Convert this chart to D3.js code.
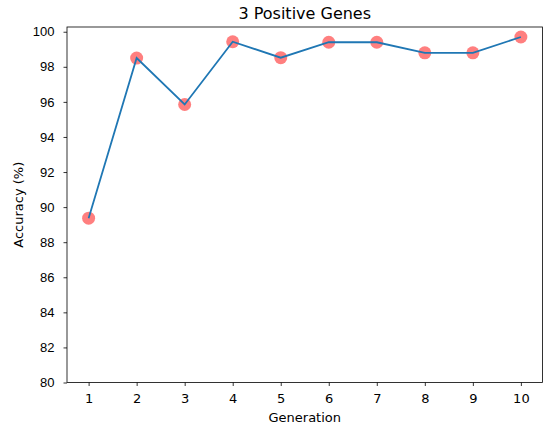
<!DOCTYPE html>
<html>
<head>
<meta charset="utf-8">
<script src="https://cdn.jsdelivr.net/npm/d3@7"></script>
<style>
  body { margin: 0; background: #fff; }
  svg text { font-family: "DejaVu Sans", sans-serif; fill: #000; }
</style>
</head>
<body>
<svg id="chart" width="543" height="429"></svg>
<script>
var generations = [1, 2, 3, 4, 5, 6, 7, 8, 9, 10],
    accuracy = [89.37, 98.5, 95.85, 99.43, 98.52, 99.4, 99.4, 98.8, 98.8, 99.7],
    yTicks = [80, 82, 84, 86, 88, 90, 92, 94, 96, 98, 100];

var svg = d3.select('#chart'),
    plotLeft = 67, plotRight = 542.5, plotTop = 27, plotBottom = 382.5;

var x = d3.scaleLinear().domain([0.55, 10.45]).range([plotLeft, plotRight]),
    y = d3.scaleLinear().domain([80, 100.27]).range([plotBottom, plotTop]);

// dots first, line drawn over them
svg.append('g').selectAll('circle')
    .data(generations)
    .enter().append('circle')
    .attr('cx', function(d) { return x(d); })
    .attr('cy', function(d, i) { return y(accuracy[i]); })
    .attr('r', 6.5)
    .attr('fill', '#ff0000')
    .attr('fill-opacity', 0.5);

svg.append('path')
    .datum(generations)
    .attr('fill', 'none')
    .attr('stroke', '#1f77b4')
    .attr('stroke-width', 1.8)
    .attr('d', d3.line()
        .x(function(d) { return x(d); })
        .y(function(d, i) { return y(accuracy[i]); }));

var xAxis = svg.append('g')
    .attr('transform', 'translate(0,' + plotBottom + ')')
    .call(d3.axisBottom(x).tickValues(generations).tickSize(3.5).tickPadding(7.5).tickFormat(d3.format('d')));
var yAxis = svg.append('g')
    .attr('transform', 'translate(' + plotLeft + ',0)')
    .call(d3.axisLeft(y).tickValues(yTicks).tickSize(3.5).tickPadding(9));

[xAxis, yAxis].forEach(function(a) {
    a.attr('font-size', null).attr('font-family', null);
    a.select('.domain').remove();
    a.selectAll('text').style('font-size', '13px').attr('fill', '#000');
    a.selectAll('line').attr('stroke', '#000').attr('stroke-width', 0.8);
});
yAxis.selectAll('text').style('font-family', '"Liberation Sans", Arial, sans-serif');

// frame
svg.append('rect')
    .attr('x', plotLeft).attr('y', plotTop)
    .attr('width', plotRight - plotLeft).attr('height', plotBottom - plotTop)
    .attr('fill', 'none').attr('stroke', '#000').attr('stroke-width', 0.8);

svg.append('text')
    .attr('x', (plotLeft + plotRight) / 2).attr('y', 18.5)
    .attr('text-anchor', 'middle')
    .style('font-size', '16px')
    .text('3 Positive Genes');

svg.append('text')
    .attr('x', (plotLeft + plotRight) / 2).attr('y', 422)
    .attr('text-anchor', 'middle')
    .style('font-size', '13px')
    .text('Generation');

svg.append('text')
    .attr('transform', 'translate(23,' + ((plotTop + plotBottom) / 2) + ') rotate(-90)')
    .attr('text-anchor', 'middle')
    .style('font-size', '13px')
    .text('Accuracy (%)');
</script>
</body>
</html>
